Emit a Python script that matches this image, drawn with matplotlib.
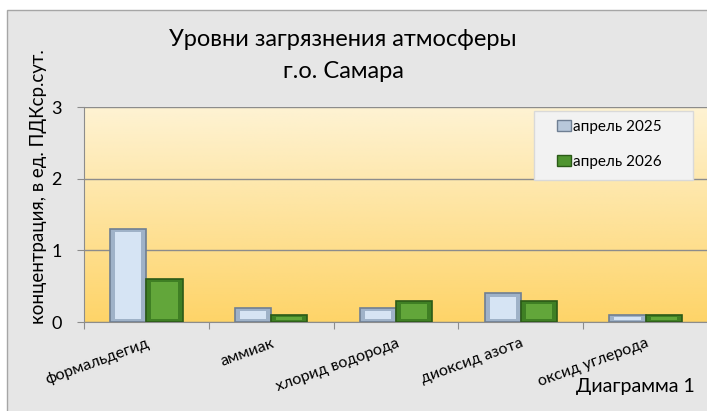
import numpy as np
import matplotlib
matplotlib.use('Agg')
import matplotlib.pyplot as plt
from matplotlib.patches import Rectangle

# data
categories = ['формальдегид', 'аммиак', 'хлорид водорода', 'диоксид азота', 'оксид углерода']
apr_2025 = [1.3, 0.2, 0.2, 0.4, 0.1]
apr_2026 = [0.6, 0.1, 0.3, 0.3, 0.1]
series_names = ['апрель 2025', 'апрель 2026']

plt.rcParams['font.family'] = ['Lato', 'DejaVu Sans']

fig = plt.figure(figsize=(7.07, 4.11), dpi=100)
fig.patch.set_facecolor('white')
# chart frame (extends past the right/bottom edge as in the original)
fig.patches.append(Rectangle((7 / 707, -0.05), 1.1, 1 - 10 / 411 + 0.05,
                             transform=fig.transFigure, facecolor='#e6e6e6',
                             edgecolor='#a6a6a6', lw=1, zorder=-5))

ax = fig.add_axes([84 / 707, 89 / 411, 624 / 707, 215 / 411])
ax.set_facecolor('none')

# gradient background of plot area
grad = np.linspace(0, 1, 256).reshape(-1, 1)
top = np.array([254, 243, 212]) / 255
bot = np.array([254, 212, 104]) / 255
img = bot + (top - bot) * grad
ax.imshow(img[:, None, :].repeat(2, axis=1), extent=[-0.5, 4.5, 0, 3],
          origin='lower', aspect='auto', zorder=0)

x = np.arange(len(categories))
w = 0.29
v25 = np.array(apr_2025)
v26 = np.array(apr_2026)
inset = 0.045  # bevel thickness in data units
# outer (bevel) bars
ax.bar(x - w / 2, v25, w, color='#9fb2c8', edgecolor='#6f7f93', lw=1.2,
       label=series_names[0], zorder=3)
ax.bar(x + w / 2, v26, w, color='#3f7f24', edgecolor='#2b5a17', lw=1.2,
       label=series_names[1], zorder=3)
# inner faces
ax.bar(x - w / 2, np.maximum(v25 - 2 * inset, v25 * 0.35), w * 0.72,
       bottom=np.minimum(inset, v25 * 0.32), color='#d6e4f4', lw=0, zorder=4)
ax.bar(x + w / 2, np.maximum(v26 - 2 * inset, v26 * 0.35), w * 0.72,
       bottom=np.minimum(inset, v26 * 0.32), color='#62a63a', lw=0, zorder=4)

ax.set_xlim(-0.5, 4.5)
ax.set_ylim(0, 3)
ax.set_yticks([0, 1, 2, 3])
ax.yaxis.grid(True, color='#8c8c8c', lw=1)
ax.set_axisbelow(False)
for gl in ax.get_ygridlines():
    gl.set_zorder(1)

ax.set_xticks(np.arange(-0.5, 5, 1))
ax.set_xticklabels([])
ax.tick_params(axis='x', length=5, color='#8c8c8c', direction='out')
ax.tick_params(axis='y', length=5, color='#8c8c8c', labelsize=13, pad=11)
for i, c in enumerate(categories):
    ax.text(i, -0.2, c, rotation=20, rotation_mode='anchor', ha='right', va='top',
            fontsize=11.5, transform=ax.transData)

for s in ['top', 'right']:
    ax.spines[s].set_visible(False)
ax.spines['left'].set_color('#8c8c8c')
ax.spines['bottom'].set_color('#8c8c8c')

ax.set_ylabel('концентрация, в ед. ПДКср.сут.', fontsize=13.5)
ax.yaxis.set_label_coords(-0.06, 0.63)

fig.text(343 / 707, 1 - 40 / 411, 'Уровни загрязнения атмосферы', ha='center', va='center', fontsize=17)
fig.text(343 / 707, 1 - 72 / 411, 'г.о. Самара', ha='center', va='center', fontsize=17)
fig.text(695 / 707, 1 - 386 / 411, 'Диаграмма 1', ha='right', va='center', fontsize=14)

# legend box
ax.add_patch(Rectangle(((534 - 84) / 624, (322 - 180) / 215), (693 - 534) / 624, 69 / 215,
                       transform=ax.transAxes, facecolor='#f2f2f2', edgecolor='#d9d9d9',
                       lw=1, zorder=6))
handles = [Rectangle((0, 0), 1, 1, facecolor='#b8c8da', edgecolor='#6f7f93'),
           Rectangle((0, 0), 1, 1, facecolor='#4f9430', edgecolor='#2b5a17')]
leg = ax.legend(handles, series_names, loc='upper left',
                bbox_to_anchor=((557 - 84) / 624, (322 - 120) / 215),
                frameon=False, fontsize=11, handlelength=0.9, handleheight=0.7,
                handletextpad=0.15, borderpad=0, labelspacing=1.35, borderaxespad=0)
leg.set_zorder(7)

fig.savefig('out.png', dpi=100)
